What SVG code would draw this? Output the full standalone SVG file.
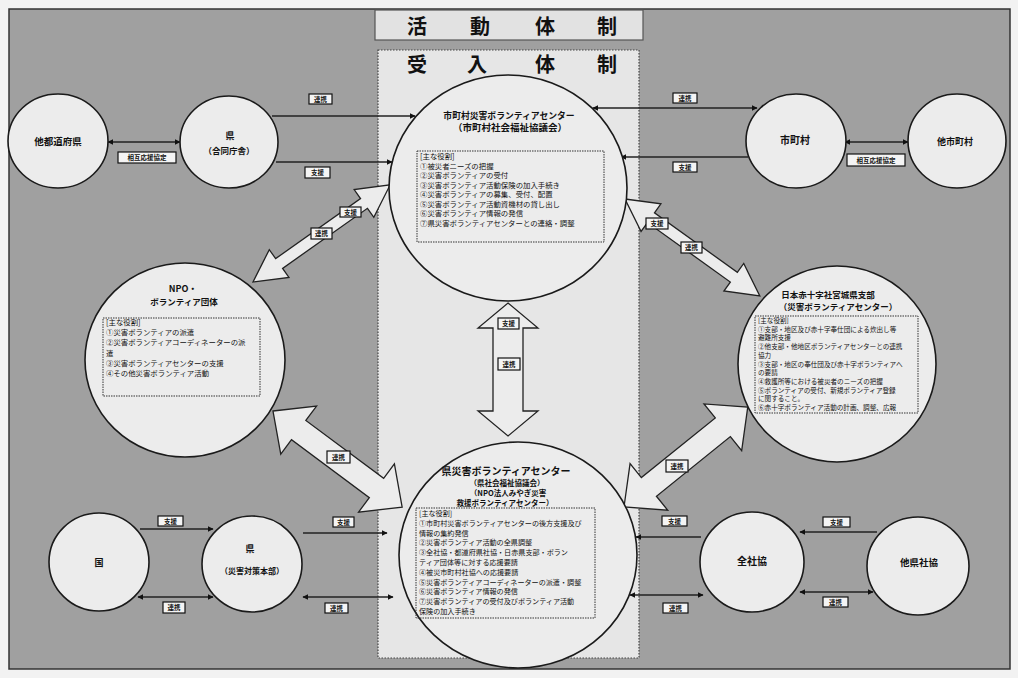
<svg xmlns="http://www.w3.org/2000/svg" width="1018" height="678" viewBox="0 0 1018 678">
<defs>
<style>
text{font-family:"Noto Sans CJK JP","Noto Sans CJK SC",sans-serif;fill:#111}
.bg{fill:#a0a0a0;stroke:#333;stroke-width:1.5}
.col{fill:#e6e6e6;stroke:#444;stroke-width:1.2;stroke-dasharray:1.5 1.5}
.band{fill:#e2e2e2;stroke:#555;stroke-width:1.2}
.node{fill:#ececec;stroke:#1a1a1a;stroke-width:1.6}
.box{fill:none;stroke:#333;stroke-width:1;stroke-dasharray:1.5 1}
.lbl rect{fill:#f4f4f4;stroke:#111;stroke-width:1.2}
.lbl text{font-size:6.5px;font-weight:bold;text-anchor:middle}
.ln{stroke:#222;stroke-width:1.5;fill:none}
.ba{fill:#ececec;stroke:#222;stroke-width:1.3;stroke-linejoin:miter}
.h1{font-size:20px;font-weight:bold}
.nt{font-weight:bold;text-anchor:middle}
.bt{font-size:7.4px}
.ct{font-size:7.1px}
.rt{font-size:6.6px}
</style>
<marker id="ah" viewBox="0 0 10 10" refX="9" refY="5" markerWidth="6" markerHeight="6" markerUnits="userSpaceOnUse" orient="auto-start-reverse">
<path d="M0,0 L10,5 L0,10 z" fill="#111"/>
</marker>
</defs>
<rect width="1018" height="678" fill="#f2f2f2"/>
<rect class="bg" x="9" y="9" width="1001" height="660"/>
<g id="title">
<rect class="band" x="375" y="10" width="268" height="30"/>
<text class="h1" x="407 470 535 597" y="34">活動体制</text>
</g>
<g id="column">
<rect class="col" x="378" y="50" width="261" height="608"/>
<text class="h1" x="407 467 535 597" y="72">受入体制</text>
</g>

<g id="connectors">
<line class="ln" x1="108" y1="142" x2="180" y2="142" marker-start="url(#ah)" marker-end="url(#ah)"/>
<line class="ln" x1="272" y1="116" x2="415" y2="116" marker-end="url(#ah)"/>
<line class="ln" x1="276" y1="162" x2="392" y2="162" marker-end="url(#ah)"/>
<line class="ln" x1="593" y1="108" x2="757" y2="108" marker-start="url(#ah)" marker-end="url(#ah)"/>
<line class="ln" x1="748" y1="157" x2="621" y2="157" marker-end="url(#ah)"/>
<line class="ln" x1="845" y1="142" x2="908" y2="142" marker-start="url(#ah)" marker-end="url(#ah)"/>
<line class="ln" x1="140" y1="529" x2="213" y2="529" marker-end="url(#ah)"/>
<line class="ln" x1="138" y1="597" x2="213" y2="597" marker-start="url(#ah)" marker-end="url(#ah)"/>
<line class="ln" x1="303" y1="533" x2="387" y2="533" marker-end="url(#ah)"/>
<line class="ln" x1="303" y1="597" x2="393" y2="597" marker-start="url(#ah)" marker-end="url(#ah)"/>
<line class="ln" x1="701" y1="537" x2="636" y2="537" marker-end="url(#ah)"/>
<line class="ln" x1="630" y1="595" x2="703" y2="595" marker-start="url(#ah)" marker-end="url(#ah)"/>
<line class="ln" x1="877" y1="532" x2="800" y2="532" marker-end="url(#ah)"/>
<line class="ln" x1="800" y1="592" x2="873" y2="592" marker-start="url(#ah)" marker-end="url(#ah)"/>
<polygon class="ba" transform="translate(253,282) rotate(-35.3)" points="0,0 32,-17 32,-6 136,-6 136,-17 168,0 136,17 136,6 32,6 32,17"/>
<polygon class="ba" transform="translate(625,199) rotate(35.7)" points="0,0 32,-17 32,-6 134,-6 134,-17 166,0 134,17 134,6 32,6 32,17"/>
<polygon class="ba" transform="translate(273,411) rotate(36.66)" points="0,0 32,-30 32,-12 129,-12 129,-30 161,0 129,30 129,12 32,12 32,30"/>
<polygon class="ba" transform="translate(624,507) rotate(-38.9)" points="0,0 32,-30 32,-12 127,-12 127,-30 159,0 127,30 127,12 32,12 32,30"/>
<polygon class="ba" transform="translate(508,303) rotate(90)" points="0,0 25,-30 25,-15 108,-15 108,-30 133,0 108,30 108,15 25,15 25,30"/>
</g>

<g id="labels">
<g class="lbl"><rect x="118" y="152" width="58" height="11"/><text x="147" y="160">相互応援協定</text></g>
<g class="lbl"><rect x="309" y="94" width="23" height="10"/><text x="320.5" y="101.5">連携</text></g>
<g class="lbl"><rect x="305" y="167" width="25" height="11"/><text x="317.5" y="175">支援</text></g>
<g class="lbl"><rect x="673" y="93" width="24" height="10"/><text x="685" y="100.5">連携</text></g>
<g class="lbl"><rect x="673" y="162" width="24" height="10"/><text x="685" y="169.5">支援</text></g>
<g class="lbl"><rect x="847" y="154" width="58" height="12"/><text x="876" y="162.5">相互応援協定</text></g>
<g class="lbl"><rect x="340" y="207" width="21" height="10"/><text x="350.5" y="214.5">支援</text></g>
<g class="lbl"><rect x="311" y="228" width="21" height="11"/><text x="321.5" y="236">連携</text></g>
<g class="lbl"><rect x="646" y="218" width="22" height="11"/><text x="657" y="226">支援</text></g>
<g class="lbl"><rect x="681" y="242" width="21" height="11"/><text x="691.5" y="250">連携</text></g>
<g class="lbl"><rect x="498" y="318" width="21" height="11"/><text x="508.5" y="326">支援</text></g>
<g class="lbl"><rect x="498" y="358" width="22" height="12"/><text x="509" y="366.5">連携</text></g>
<g class="lbl"><rect x="327" y="451" width="23" height="12"/><text x="338.5" y="459.5">連携</text></g>
<g class="lbl"><rect x="666" y="460" width="22" height="12"/><text x="677" y="468.5">連携</text></g>
<g class="lbl"><rect x="158" y="516" width="25" height="10"/><text x="170.5" y="523.5">支援</text></g>
<g class="lbl"><rect x="163" y="602" width="22" height="11"/><text x="174" y="610">連携</text></g>
<g class="lbl"><rect x="333" y="517" width="21" height="10"/><text x="343.5" y="524.5">支援</text></g>
<g class="lbl"><rect x="325" y="603" width="23" height="10"/><text x="336.5" y="610.5">連携</text></g>
<g class="lbl"><rect x="662" y="516" width="25" height="10"/><text x="674.5" y="523.5">支援</text></g>
<g class="lbl"><rect x="663" y="603" width="25" height="10"/><text x="675.5" y="610.5">連携</text></g>
<g class="lbl"><rect x="823" y="517" width="27" height="10"/><text x="836.5" y="524.5">支援</text></g>
<g class="lbl"><rect x="823" y="597" width="25" height="10"/><text x="835.5" y="604.5">連携</text></g>
</g>

<g id="n-other-pref">
<ellipse class="node" cx="58" cy="141" rx="50" ry="47"/>
<text class="nt" x="58" y="145" font-size="9.5">他都道府県</text>
</g>
<g id="n-pref-office">
<ellipse class="node" cx="229" cy="142" rx="49" ry="46"/>
<text class="nt" x="230" y="139" font-size="9">県</text>
<text class="nt" x="229" y="154" font-size="8.5">（合同庁舎）</text>
</g>
<g id="n-muni">
<ellipse class="node" cx="796" cy="141" rx="50" ry="47"/>
<text class="nt" x="795" y="144" font-size="10">市町村</text>
</g>
<g id="n-other-muni">
<ellipse class="node" cx="957" cy="141" rx="49" ry="47"/>
<text class="nt" x="955" y="145" font-size="9">他市町村</text>
</g>
<g id="n-muni-center">
<ellipse class="node" cx="508" cy="188" rx="119" ry="113"/>
<text class="nt" x="509" y="119" font-size="8.8">市町村災害ボランティアセンター</text>
<text class="nt" x="510" y="131" font-size="9.5">（市町村社会福祉協議会）</text>
<rect class="box" x="417" y="151" width="187" height="91"/>
<text class="bt" x="420" y="159">[主な役割]</text>
<text class="bt" x="420" y="168.5">①被災者ニーズの把握</text>
<text class="bt" x="420" y="178">②災害ボランティアの受付</text>
<text class="bt" x="420" y="187.5">③災害ボランティア活動保険の加入手続き</text>
<text class="bt" x="420" y="197">④災害ボランティアの募集、受付、配置</text>
<text class="bt" x="420" y="206.5">⑤災害ボランティア活動資機材の貸し出し</text>
<text class="bt" x="420" y="216">⑥災害ボランティア情報の発信</text>
<text class="bt" x="420" y="225.5">⑦県災害ボランティアセンターとの連絡・調整</text>
</g>
<g id="n-npo">
<ellipse class="node" cx="185" cy="360" rx="100" ry="97"/>
<text class="nt" x="183" y="292" font-size="9">NPO・</text>
<text class="nt" x="184" y="305" font-size="8.5">ボランティア団体</text>
<rect class="box" x="103" y="318" width="157" height="78"/>
<text class="bt" x="106" y="325">[主な役割]</text>
<text class="bt" x="106" y="335">①災害ボランティアの派遣</text>
<text class="bt" x="106" y="345">②災害ボランティアコーディネーターの派</text>
<text class="bt" x="106" y="355.5">遣</text>
<text class="bt" x="106" y="366">③災害ボランティアセンターの支援</text>
<text class="bt" x="106" y="376">④その他災害ボランティア活動</text>
</g>
<g id="n-redcross">
<ellipse class="node" cx="837" cy="364" rx="99" ry="98"/>
<text class="nt" x="828" y="298" font-size="8.5">日本赤十字社宮城県支部</text>
<text class="nt" x="838" y="310" font-size="8.5">（災害ボランティアセンター）</text>
<rect class="box" x="755" y="316" width="163" height="97"/>
<text class="rt" x="758" y="323">[主な役割]</text>
<text class="rt" x="758" y="331.7">①支部・地区及び赤十字奉仕団による炊出し等</text>
<text class="rt" x="758" y="340.4">避難所支援</text>
<text class="rt" x="758" y="349.1">②他支部・他地区ボランティアセンターとの連携</text>
<text class="rt" x="758" y="357.8">協力</text>
<text class="rt" x="758" y="366.5">③支部・地区の奉仕団及び赤十字ボランティアへ</text>
<text class="rt" x="758" y="375.2">の要請</text>
<text class="rt" x="758" y="383.9">④救護所等における被災者のニーズの把握</text>
<text class="rt" x="758" y="392.6">⑤ボランティアの受付、新規ボランティア登録</text>
<text class="rt" x="758" y="401.3">に関すること。</text>
<text class="rt" x="758" y="410">⑥赤十字ボランティア活動の計画、調整、広報</text>
</g>
<g id="n-pref-center">
<ellipse class="node" cx="518" cy="555" rx="119" ry="113"/>
<text class="nt" x="506" y="475" font-size="10">県災害ボランティアセンター</text>
<text class="nt" x="507" y="486" font-size="7.5">（県社会福祉協議会）</text>
<text class="nt" x="508" y="496" font-size="7.5">（NPO法人みやぎ災害</text>
<text class="nt" x="505" y="505.5" font-size="7.5">救援ボランティアセンター）</text>
<rect class="box" x="416" y="508" width="179" height="110"/>
<text class="ct" x="419" y="516">[主な役割]</text>
<text class="ct" x="419" y="525.8">①市町村災害ボランティアセンターの後方支援及び</text>
<text class="ct" x="419" y="535.6">情報の集約発信</text>
<text class="ct" x="419" y="545.4">②災害ボランティア活動の全県調整</text>
<text class="ct" x="419" y="555.2">③全社協・都道府県社協・日赤県支部・ボラン</text>
<text class="ct" x="419" y="565">ティア団体等に対する応援要請</text>
<text class="ct" x="419" y="574.8">④被災市町村社協への応援要請</text>
<text class="ct" x="419" y="584.6">⑤災害ボランティアコーディネーターの派遣・調整</text>
<text class="ct" x="419" y="594.4">⑥災害ボランティア情報の発信</text>
<text class="ct" x="419" y="604.2">⑦災害ボランティアの受付及びボランティア活動</text>
<text class="ct" x="419" y="614">保険の加入手続き</text>
</g>
<g id="n-nation">
<ellipse class="node" cx="99" cy="562" rx="50" ry="49"/>
<text class="nt" x="99" y="566" font-size="9">国</text>
</g>
<g id="n-pref-hq">
<ellipse class="node" cx="252" cy="564" rx="50" ry="48"/>
<text class="nt" x="250" y="552" font-size="9">県</text>
<text class="nt" x="252" y="574" font-size="8">（災害対策本部）</text>
</g>
<g id="n-zenshakyo">
<ellipse class="node" cx="752" cy="562" rx="52" ry="50"/>
<text class="nt" x="752" y="565" font-size="10">全社協</text>
</g>
<g id="n-other-shakyo">
<ellipse class="node" cx="918" cy="566" rx="51" ry="49"/>
<text class="nt" x="919" y="566" font-size="9.5">他県社協</text>
</g>
</svg>
